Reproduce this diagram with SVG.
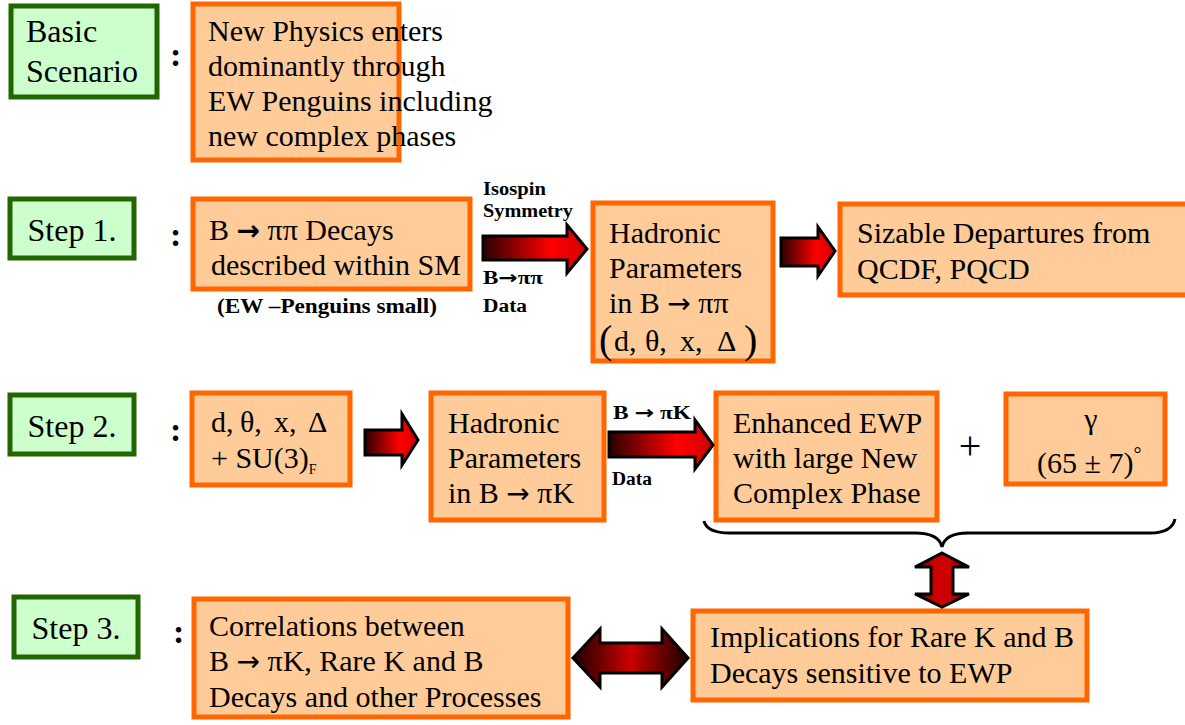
<svg xmlns="http://www.w3.org/2000/svg" width="1185" height="725" viewBox="0 0 1185 725" font-family="Liberation Serif, Times New Roman, serif">
<defs>
<style>
.step{fill:#ccffcc;stroke:#226600;stroke-width:5}
.box{fill:#ffcc99;stroke:#ff6600;stroke-width:5}
.t{font-size:30px;fill:#000}
.s{font-size:32px;fill:#000}
.b{font-size:18px;font-weight:bold;fill:#000}
.colon{font-size:34px;font-weight:bold;fill:#000}
.ar{font-family:'DejaVu Sans',sans-serif;font-size:28px}
.arr{stroke:#000;stroke-width:3;stroke-linejoin:miter}
</style>
<linearGradient id="gR" x1="0" y1="0" x2="1" y2="0">
<stop offset="0" stop-color="#2a0000"/>
<stop offset="0.65" stop-color="#ff0000"/>
<stop offset="1" stop-color="#d00000"/>
</linearGradient>
<linearGradient id="gH" x1="0" y1="0" x2="1" y2="0">
<stop offset="0" stop-color="#1a0000"/>
<stop offset="0.5" stop-color="#cc0000"/>
<stop offset="1" stop-color="#1a0000"/>
</linearGradient>
<linearGradient id="gV" x1="0" y1="0" x2="1" y2="0">
<stop offset="0" stop-color="#330000"/>
<stop offset="0.35" stop-color="#cc0000"/>
<stop offset="0.65" stop-color="#cc0000"/>
<stop offset="1" stop-color="#330000"/>
</linearGradient>
</defs>
<rect width="1185" height="725" fill="#ffffff"/>

<g id="basic">
<rect class="step" x="11" y="6" width="146" height="91"/>
<text class="s" x="26" y="42">Basic</text>
<text class="s" x="26" y="82">Scenario</text>
</g>
<text class="colon" x="170" y="66">:</text>
<g id="newphysics">
<rect class="box" x="193" y="4" width="206" height="156"/>
<text class="t" x="208" y="41">New Physics enters</text>
<text class="t" x="208" y="76">dominantly through</text>
<text class="t" x="208" y="111">EW Penguins including</text>
<text class="t" x="208" y="146">new complex phases</text>
</g>

<g id="step1">
<rect class="step" x="10" y="199" width="124" height="59"/>
<text class="s" x="72" y="241" text-anchor="middle">Step 1.</text>
</g>
<text class="colon" x="170" y="246">:</text>
<g id="bpipi">
<rect class="box" x="193" y="199" width="277" height="90"/>
<text class="t" x="209" y="240">B <tspan class="ar" font-weight="bold" font-size="32">→</tspan> ππ Decays</text>
<text class="t" x="211" y="275">described within SM</text>
<text class="b" x="217" y="313" style="font-size:20px" textLength="220" lengthAdjust="spacingAndGlyphs">(EW –Penguins small)</text>
</g>
<g id="hadr1">
<rect class="box" x="593" y="203" width="180" height="158"/>
<text class="t" x="609" y="243">Hadronic</text>
<text class="t" x="609" y="278">Parameters</text>
<text class="t" x="609" y="313">in B <tspan class="ar">→</tspan> ππ</text>
<text class="t" y="351"><tspan x="599" font-size="40" dy="2">(</tspan><tspan x="614" dy="-2">d,</tspan><tspan x="645">θ,</tspan><tspan x="680">x,</tspan><tspan x="717">Δ</tspan><tspan x="744" font-size="40" dy="2">)</tspan></text>
</g>
<g id="sizable">
<rect class="box" x="840" y="204" width="350" height="91"/>
<text class="t" x="857" y="243">Sizable Departures from</text>
<text class="t" x="857" y="279">QCDF, PQCD</text>
</g>

<g id="step2">
<rect class="step" x="10" y="395" width="124" height="59"/>
<text class="s" x="72" y="437" text-anchor="middle">Step 2.</text>
</g>
<text class="colon" x="170" y="441">:</text>
<g id="dtheta">
<rect class="box" x="192" y="393" width="158" height="92"/>
<text class="t" y="432"><tspan x="211">d,</tspan><tspan x="240">θ,</tspan><tspan x="274">x,</tspan><tspan x="308">Δ</tspan></text>
<text class="t" x="211" y="468">+ SU(3)<tspan font-size="14" dy="6">F</tspan></text>
</g>
<g id="hadr2">
<rect class="box" x="431" y="393" width="173" height="127"/>
<text class="t" x="448" y="433">Hadronic</text>
<text class="t" x="448" y="468">Parameters</text>
<text class="t" x="448" y="503">in B <tspan class="ar">→</tspan> πK</text>
</g>
<g id="enhanced">
<rect class="box" x="716" y="393" width="221" height="127"/>
<text class="t" x="733" y="433">Enhanced EWP</text>
<text class="t" x="733" y="468">with large New</text>
<text class="t" x="733" y="503">Complex Phase</text>
</g>
<text class="t" x="970" y="459" text-anchor="middle" style="font-size:40px">+</text>
<g id="gamma">
<rect class="box" x="1006" y="394" width="159" height="90"/>
<text class="t" x="1091" y="429" text-anchor="middle">γ</text>
<text class="t" x="1037" y="473">(65 ± 7)<tspan font-size="20" dy="-12">°</tspan></text>
</g>

<g id="step3">
<rect class="step" x="14" y="597" width="124" height="60"/>
<text class="s" x="76" y="639" text-anchor="middle">Step 3.</text>
</g>
<text class="colon" x="173" y="643">:</text>
<g id="correlations">
<rect class="box" x="194" y="599" width="374" height="118"/>
<text class="t" x="209" y="636">Correlations between</text>
<text class="t" x="209" y="671">B <tspan class="ar">→</tspan> πK, Rare K and B</text>
<text class="t" x="209" y="707">Decays and other Processes</text>
</g>
<g id="implications">
<rect class="box" x="693" y="611" width="394" height="89"/>
<text class="t" x="710" y="647">Implications for Rare K and B</text>
<text class="t" x="710" y="683">Decays sensitive to EWP</text>
</g>

<g id="connectors">
<path class="arr" fill="url(#gR)" d="M483,236 H567 V225 L587,249 L567,273 V260 H483 Z"/>
<text class="b" x="483" y="195" textLength="63" lengthAdjust="spacingAndGlyphs">Isospin</text>
<text class="b" x="483" y="217" textLength="90" lengthAdjust="spacingAndGlyphs">Symmetry</text>
<text class="b" x="483" y="284" textLength="60" lengthAdjust="spacingAndGlyphs">B<tspan font-family="DejaVu Sans, sans-serif">→</tspan>ππ</text>
<text class="b" x="483" y="312" textLength="44" lengthAdjust="spacingAndGlyphs">Data</text>
<path class="arr" fill="url(#gR)" d="M781,238 H818 V227 L835,251 L818,276 V266 H781 Z"/>
<path class="arr" fill="url(#gR)" d="M365,430 H402 V414 L418,440 L402,465 V455 H365 Z"/>
<path class="arr" fill="url(#gR)" d="M609,432 H695 V420 L713,445 L695,469 V457 H609 Z"/>
<text class="b" x="613" y="419" textLength="78" lengthAdjust="spacingAndGlyphs">B <tspan font-family="DejaVu Sans, sans-serif">→</tspan> πK</text>
<text class="b" x="612" y="485" textLength="40" lengthAdjust="spacingAndGlyphs">Data</text>
<path fill="none" stroke="#000" stroke-width="3" d="M704,521 C706,530 715,533 730,533 H915 C932,533 940,538 942,547 C944,538 952,533 968,533 H1150 C1165,533 1173,528 1175,519"/>
<path class="arr" fill="url(#gV)" d="M942,553 L969,567 H953 V594 H969 L942,607 L915,594 H931 V567 H915 Z"/>
<path class="arr" fill="url(#gH)" d="M573,658 L600,629 V643 H662 V629 L688,658 L662,687 V673 H600 V687 Z"/>
</g>
</svg>
